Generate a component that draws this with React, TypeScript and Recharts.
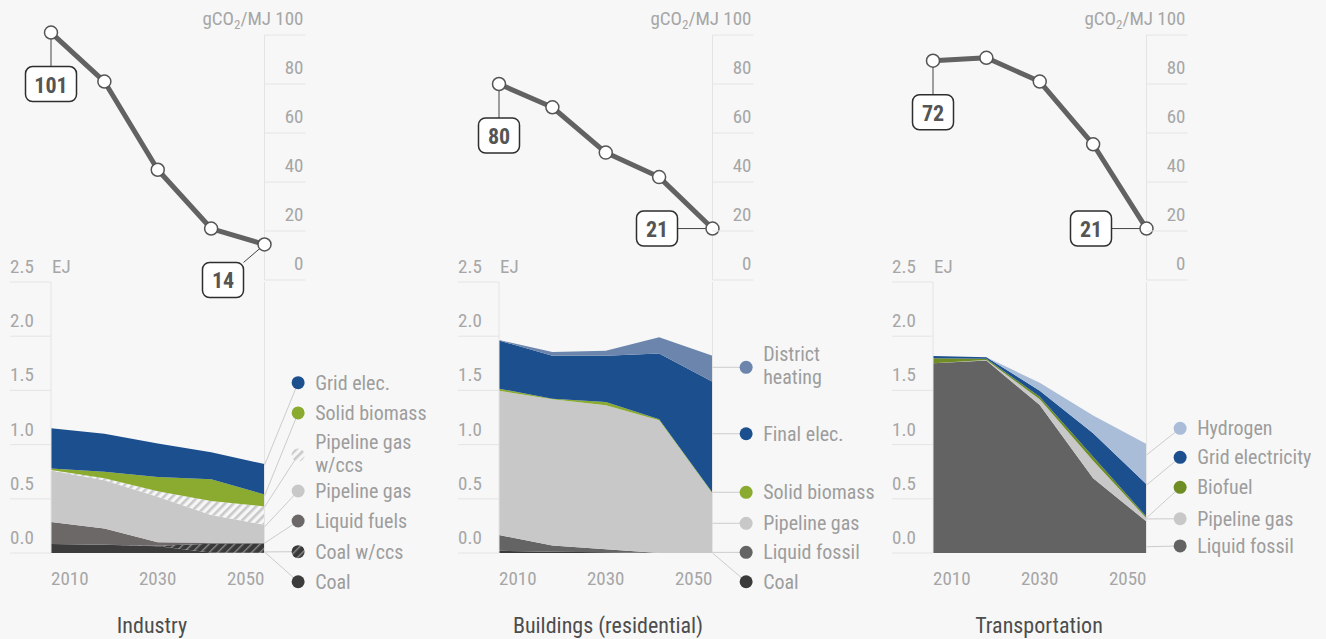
import React from 'react';
import { LineChart, Line, AreaChart, Area, XAxis, YAxis, ReferenceLine, ReferenceDot } from 'recharts';

const FONT = "'Roboto Condensed', 'Liberation Sans Narrow', 'Arial Narrow', 'DejaVu Sans Condensed', Roboto, sans-serif";
const BG = '#f7f7f7';
const TICK_COLOR = '#a6a6a6';
const LEGEND_COLOR = '#9d9d9d';
const GRID_COLOR = '#e4e4e4';

// five milestones along the x axis
const steps = [0, 1, 2, 3, 4];
const yearTickSteps = [0, 2, 4];
const yearTickLabels = ['2010', '2030', '2050'];
const intensityTicks = [0, 20, 40, 60, 80, 100];
const energyTicks = [0, 0.5, 1, 1.5, 2, 2.5];

// ---------- Industry ----------
const industryIntensity = [101, 81, 45, 21, 14.5];
const industryBoxLabels = ['101', '14'];
const industryCoal = [0.083, 0.075, 0.062, 0.005, 0.003];
const industryCoalCcs = [0, 0, 0.005, 0.08, 0.085];
const industryLiquidFuels = [0.203, 0.15, 0.033, 0.01, 0.007];
const industryPipelineGas = [0.474, 0.445, 0.42, 0.255, 0.165];
const industryPipelineGasCcs = [0.006, 0.02, 0.05, 0.13, 0.17];
const industrySolidBiomass = [0.014, 0.06, 0.13, 0.2, 0.11];
const industryGridElec = [0.37, 0.35, 0.31, 0.25, 0.28];
// legend slot (EJ) and pointer target (EJ), bottom-to-top series order
const industryLegendAt = [-0.265, 0.012, 0.295, 0.572, 0.904, 1.292, 1.571];
const industryPointTo = [0.01, 0.01, 0.09, 0.24, 0.424, 0.526, 0.81];

// ---------- Buildings (residential) ----------
const buildingsIntensity = [80, 70.5, 52, 42, 21];
const buildingsBoxLabels = ['80', '21'];
const buildingsCoal = [0.02, 0.012, 0.008, 0, 0];
const buildingsLiquidFossil = [0.146, 0.058, 0.026, 0, 0];
const buildingsPipelineGas = [1.331, 1.348, 1.328, 1.225, 0.55];
const buildingsSolidBiomass = [0.019, 0.006, 0.031, 0.008, 0.006];
const buildingsFinalElec = [0.444, 0.396, 0.427, 0.607, 1.024];
const buildingsDistrictHeating = [0.005, 0.034, 0.046, 0.15, 0.24];
const buildingsLegendAt = [-0.265, 0.006, 0.274, 0.56, 1.1, 1.713];
const buildingsPointTo = [0.0, 0.006, 0.274, 0.56, 1.1, 1.713];

// ---------- Transportation ----------
const transportIntensity = [89.5, 90.7, 81, 55.4, 21];
const transportBoxLabels = ['72', '21'];
const transportLiquidFossil = [1.75, 1.775, 1.365, 0.69, 0.29];
const transportPipelineGas = [0, 0.005, 0.053, 0.162, 0.03];
const transportBiofuel = [0.046, 0.013, 0.024, 0.037, 0.015];
const transportGridElectricity = [0.021, 0.012, 0.055, 0.216, 0.299];
const transportHydrogen = [0, 0, 0.074, 0.163, 0.372];
const transportLegendAt = [0.065, 0.316, 0.606, 0.883, 1.15];
const transportPointTo = [0.058, 0.314, 0.323, 0.627, 0.904];

type Item = { label: string[]; values: number[]; fill: string };

const industryItems: Item[] = [
  { label: ['Coal'], values: industryCoal, fill: '#3c3c3c' },
  { label: ['Coal w/ccs'], values: industryCoalCcs, fill: 'url(#hatchDark)' },
  { label: ['Liquid fuels'], values: industryLiquidFuels, fill: '#6d6868' },
  { label: ['Pipeline gas'], values: industryPipelineGas, fill: '#c8c8c8' },
  { label: ['Pipeline gas', 'w/ccs'], values: industryPipelineGasCcs, fill: 'url(#hatchLight)' },
  { label: ['Solid biomass'], values: industrySolidBiomass, fill: '#8aab2f' },
  { label: ['Grid elec.'], values: industryGridElec, fill: '#1b4f8e' },
];

const buildingsItems: Item[] = [
  { label: ['Coal'], values: buildingsCoal, fill: '#3a3a3a' },
  { label: ['Liquid fossil'], values: buildingsLiquidFossil, fill: '#646464' },
  { label: ['Pipeline gas'], values: buildingsPipelineGas, fill: '#c8c8c8' },
  { label: ['Solid biomass'], values: buildingsSolidBiomass, fill: '#8aab2f' },
  { label: ['Final elec.'], values: buildingsFinalElec, fill: '#1b4f8e' },
  { label: ['District', 'heating'], values: buildingsDistrictHeating, fill: '#6b85ad' },
];

const transportItems: Item[] = [
  { label: ['Liquid fossil'], values: transportLiquidFossil, fill: '#636363' },
  { label: ['Pipeline gas'], values: transportPipelineGas, fill: '#c8c8c8' },
  { label: ['Biofuel'], values: transportBiofuel, fill: '#6f8c25' },
  { label: ['Grid electricity'], values: transportGridElectricity, fill: '#1b4f8e' },
  { label: ['Hydrogen'], values: transportHydrogen, fill: '#a9bdd9' },
];

const PLOT_W = 213.5;
const LINE_PX_PER_UNIT = 2.45;
const LINE_TOP = 35;
const LINE_DOMAIN_MAX = 102;
const LINE_MARGIN_TOP = LINE_TOP - (LINE_DOMAIN_MAX - 100) * LINE_PX_PER_UNIT;
const LINE_PLOT_H = LINE_DOMAIN_MAX * LINE_PX_PER_UNIT;
const AREA_TOP = 282;
const AREA_PLOT_H = 271;
const AREA_MARGIN_TOP = 32;
const AXIS_W = 41;
const LEGEND_ROOM = 180;
const LEGEND_X = 4.63;

const IntensityTick = (props: any) => {
  const { x, y, payload } = props;
  const v = payload.value;
  return (
    <g>
      <line x1={x} x2={x + 41} y1={y} y2={y} stroke={GRID_COLOR} strokeWidth={1} />
      <text x={x + 39} y={y - 10} textAnchor="end" fontSize={19} fill={TICK_COLOR} fontFamily={FONT}>
        {v === 100 ? (
          <>
            <tspan>gCO</tspan>
            <tspan dy={4} fontSize={13}>2</tspan>
            <tspan dy={-4}>/MJ 100</tspan>
          </>
        ) : (
          String(v)
        )}
      </text>
    </g>
  );
};

const EnergyTick = (props: any) => {
  const { x, y, payload } = props;
  const v = payload.value as number;
  return (
    <g>
      <line x1={x - AXIS_W} x2={x} y1={y} y2={y} stroke={GRID_COLOR} strokeWidth={1} />
      <text x={x - AXIS_W} y={y - 9} textAnchor="start" fontSize={19} fill={TICK_COLOR} fontFamily={FONT}>
        {v.toFixed(1)}
      </text>
      {v === 2.5 && (
        <text x={x + 1} y={y - 9} textAnchor="start" fontSize={19} fill={TICK_COLOR} fontFamily={FONT}>
          EJ
        </text>
      )}
    </g>
  );
};

const YearTick = (props: any) => {
  const { x, y, payload } = props;
  const idx = yearTickSteps.indexOf(payload.value);
  const anchor = idx === 0 ? 'start' : idx === yearTickSteps.length - 1 ? 'end' : 'middle';
  return (
    <text x={x} y={y + 32} textAnchor={anchor} fontSize={19} fill={TICK_COLOR} fontFamily={FONT}>
      {yearTickLabels[idx]}
    </text>
  );
};

const ValueBox = ({ x, y, text }: { x: number; y: number; text: string }) => {
  const w = 21 + 10 * text.length;
  return (
    <g>
      <rect x={x} y={y} width={w} height={35} rx={7} ry={7} fill="#ffffff" stroke="#2e2e2e" strokeWidth={1.5} />
      <text x={x + w / 2} y={y + 26} textAnchor="middle" fontSize={22} fontWeight="bold" fill="#555555" fontFamily={FONT}>
        {text}
      </text>
    </g>
  );
};

const makeDot = (labels: string[], endPlacement: 'left' | 'belowLeft') => (props: any) => {
  const { cx, cy, index } = props;
  let extra: React.ReactNode = null;
  if (index === 0) {
    const w = 21 + 10 * labels[0].length;
    const top = cy + 34;
    extra = (
      <g>
        <line x1={cx} x2={cx} y1={cy} y2={top} stroke="#444" strokeWidth={1} />
        <ValueBox x={cx - w / 2} y={top} text={labels[0]} />
      </g>
    );
  } else if (index === steps.length - 1) {
    const w = 21 + 10 * labels[1].length;
    if (endPlacement === 'left') {
      extra = (
        <g>
          <line x1={cx} x2={cx - 35} y1={cy} y2={cy} stroke="#444" strokeWidth={1} />
          <ValueBox x={cx - 35 - w} y={cy - 17.5} text={labels[1]} />
        </g>
      );
    } else {
      extra = (
        <g>
          <line x1={cx} x2={cx - 21} y1={cy} y2={cy + 18} stroke="#444" strokeWidth={1} />
          <ValueBox x={cx - 21 - w} y={cy + 18} text={labels[1]} />
        </g>
      );
    }
  }
  return (
    <g key={`dot-${index}`}>
      {extra}
      <circle cx={cx} cy={cy} r={6.5} fill="#ffffff" stroke="#555555" strokeWidth={1.5} />
    </g>
  );
};

const LegendShape = (label: string[], fill: string) => (props: any) => {
  const { cx, cy } = props;
  return (
    <g>
      <circle cx={cx} cy={cy} r={6.5} fill={fill} />
      {label.length === 1 ? (
        <text x={cx + 17} y={cy + 7} fontSize={20} fill={LEGEND_COLOR} fontFamily={FONT}>
          {label[0]}
        </text>
      ) : (
        <>
          <text x={cx + 17} y={cy - 6} fontSize={20} fill={LEGEND_COLOR} fontFamily={FONT}>
            {label[0]}
          </text>
          <text x={cx + 17} y={cy + 17} fontSize={20} fill={LEGEND_COLOR} fontFamily={FONT}>
            {label[1]}
          </text>
        </>
      )}
    </g>
  );
};

type PanelProps = {
  left: number;
  intensity: number[];
  boxLabels: string[];
  endPlacement: 'left' | 'belowLeft';
  items: Item[];
  legendAt: number[];
  pointTo: number[];
  withDefs?: boolean;
};

const Panel = ({ left, intensity, boxLabels, endPlacement, items, legendAt, pointTo, withDefs }: PanelProps) => {
  const lineData = steps.map((s, i) => ({ s, v: intensity[i] }));
  const areaData = steps.map((s, i) => {
    const row: Record<string, number> = { s };
    items.forEach((it, k) => {
      row[`k${k}`] = it.values[i];
    });
    return row;
  });
  const lineMarginLeft = 45;
  const lineAxisW = 45;
  const lineBottom = 25;
  const areaXAxisH = 50;
  return (
    <>
      <div style={{ position: 'absolute', left: left - AXIS_W, top: AREA_TOP - AREA_MARGIN_TOP }}>
        <AreaChart
          width={AXIS_W + PLOT_W + LEGEND_ROOM}
          height={AREA_MARGIN_TOP + AREA_PLOT_H + areaXAxisH}
          data={areaData}
          margin={{ top: AREA_MARGIN_TOP, right: LEGEND_ROOM, left: 0, bottom: 0 }}
        >
          {withDefs && (
            <defs>
              <pattern id="hatchLight" width="6" height="6" patternUnits="userSpaceOnUse" patternTransform="rotate(45)">
                <rect width="6" height="6" fill="#f6f6f6" />
                <rect width="2.6" height="6" fill="#c9c9c9" />
              </pattern>
              <pattern id="hatchDark" width="6" height="6" patternUnits="userSpaceOnUse" patternTransform="rotate(45)">
                <rect width="6" height="6" fill="#393939" />
                <rect width="1.4" height="6" fill="#8c8c8c" />
              </pattern>
            </defs>
          )}
          <XAxis
            dataKey="s"
            type="number"
            domain={[0, 4]}
            ticks={yearTickSteps}
            interval={0}
            axisLine={false}
            tickLine={false}
            tickSize={0}
            tickMargin={0}
            height={areaXAxisH}
            tick={<YearTick />}
          />
          <YAxis
            type="number"
            domain={[0, 2.5]}
            ticks={energyTicks}
            interval={0}
            width={AXIS_W}
            tickSize={0}
            tickMargin={0}
            tickLine={false}
            axisLine={{ stroke: GRID_COLOR, strokeWidth: 1 }}
            tick={<EnergyTick />}
          />
          {items.map((it, k) => (
            <Area
              key={`a${k}`}
              type="linear"
              dataKey={`k${k}`}
              stackId="1"
              stroke="none"
              fill={it.fill}
              fillOpacity={1}
              dot={false}
              activeDot={false}
              isAnimationActive={false}
            />
          ))}
          <ReferenceLine x={4} stroke={GRID_COLOR} strokeWidth={1} />
          {items.map((it, k) => (
            <ReferenceLine
              key={`c${k}`}
              segment={[
                { x: 4, y: pointTo[k] },
                { x: LEGEND_X, y: legendAt[k] },
              ]}
              stroke="#cccccc"
              strokeWidth={1}
              ifOverflow="visible"
            />
          ))}
          {items.map((it, k) => (
            <ReferenceDot
              key={`l${k}`}
              x={LEGEND_X}
              y={legendAt[k]}
              r={6.5}
              ifOverflow="visible"
              shape={LegendShape(it.label, it.fill)}
            />
          ))}
        </AreaChart>
      </div>
      <div style={{ position: 'absolute', left: left - lineMarginLeft, top: 0 }}>
        <LineChart
          width={lineMarginLeft + PLOT_W + lineAxisW}
          height={LINE_MARGIN_TOP + LINE_PLOT_H + lineBottom}
          data={lineData}
          margin={{ top: LINE_MARGIN_TOP, right: 0, left: lineMarginLeft, bottom: lineBottom }}
        >
          <XAxis dataKey="s" type="number" domain={[0, 4]} hide />
          <YAxis
            orientation="right"
            type="number"
            domain={[0, LINE_DOMAIN_MAX]}
            ticks={intensityTicks}
            interval={0}
            width={lineAxisW}
            tickSize={0}
            tickMargin={0}
            tickLine={false}
            axisLine={false}
            tick={<IntensityTick />}
          />
          <ReferenceLine
            segment={[
              { x: 4, y: 0 },
              { x: 4, y: 100 },
            ]}
            stroke={GRID_COLOR}
            strokeWidth={1}
            ifOverflow="visible"
          />
          <Line
            type="linear"
            dataKey="v"
            stroke="#626262"
            strokeWidth={5}
            strokeLinejoin="round"
            dot={makeDot(boxLabels, endPlacement)}
            activeDot={false}
            isAnimationActive={false}
          />
        </LineChart>
      </div>
    </>
  );
};

const titles = [
  { text: 'Industry', x: 152 },
  { text: 'Buildings (residential)', x: 608 },
  { text: 'Transportation', x: 1039 },
];

export default function App() {
  return (
    <div
      style={{
        position: 'absolute',
        left: 0,
        top: 0,
        width: 1326,
        height: 639,
        overflow: 'hidden',
        background: BG,
        fontFamily: FONT,
      }}
    >
      <svg width={1326} height={639} style={{ position: 'absolute', left: 0, top: 0 }}>
        {titles.map((t) => (
          <text key={t.text} x={t.x} y={633} textAnchor="middle" fontSize={22} fill="#4d4d4d" fontFamily={FONT}>
            {t.text}
          </text>
        ))}
      </svg>
      <Panel
        left={51}
        intensity={industryIntensity}
        boxLabels={industryBoxLabels}
        endPlacement="belowLeft"
        items={industryItems}
        legendAt={industryLegendAt}
        pointTo={industryPointTo}
        withDefs
      />
      <Panel
        left={499.3}
        intensity={buildingsIntensity}
        boxLabels={buildingsBoxLabels}
        endPlacement="left"
        items={buildingsItems}
        legendAt={buildingsLegendAt}
        pointTo={buildingsPointTo}
      />
      <Panel
        left={932.7}
        intensity={transportIntensity}
        boxLabels={transportBoxLabels}
        endPlacement="left"
        items={transportItems}
        legendAt={transportLegendAt}
        pointTo={transportPointTo}
      />
    </div>
  );
}
